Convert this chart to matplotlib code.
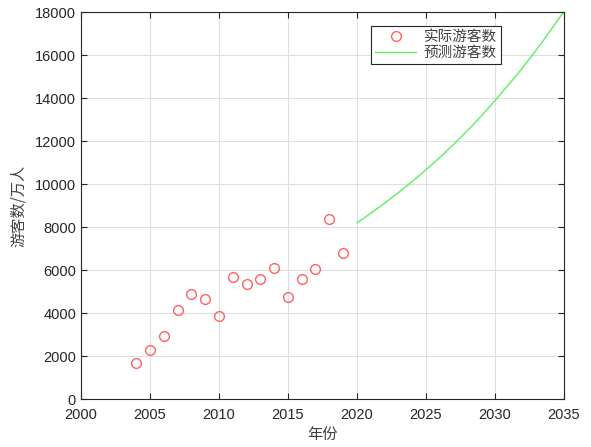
import matplotlib
matplotlib.use("Agg")
import matplotlib.pyplot as plt

plt.rcParams['font.family'] = ['Liberation Sans', 'Noto Sans CJK SC', 'DejaVu Sans']

# Observed visitor numbers (10k persons)
years_actual = [2004, 2005, 2006, 2007, 2008, 2009, 2010, 2011,
                2012, 2013, 2014, 2015, 2016, 2017, 2018, 2019]
visitors_actual = [1660, 2270, 2960, 4140, 4900, 4640, 3880, 5670,
                   5360, 5610, 6090, 4740, 5580, 6060, 8360, 6790]

# Forecast visitor numbers
years_pred = [2020, 2021, 2022, 2023, 2024, 2025, 2026, 2027,
              2028, 2029, 2030, 2031, 2032, 2033, 2034, 2035]
visitors_pred = [8200, 8640, 9110, 9600, 10120, 10660, 11230, 11840,
                 12480, 13150, 13880, 14620, 15400, 16230, 17110, 18020]

xticks = [2000, 2005, 2010, 2015, 2020, 2025, 2030, 2035]
yticks = list(range(0, 18001, 2000))

fig = plt.figure(figsize=(5.91, 4.47), dpi=100)
ax = fig.add_axes([0.137, 0.107, 0.817, 0.866])

ax.plot(years_actual, visitors_actual, linestyle='none', marker='o',
        markersize=7, markerfacecolor='none', markeredgecolor='#ff6262',
        markeredgewidth=1.0, label='实际游客数')
ax.plot(years_pred, visitors_pred, color='#5ef05e', linewidth=1.0,
        label='预测游客数')

ax.set_xlim(2000, 2035)
ax.set_ylim(0, 18000)
ax.set_xticks(xticks)
ax.set_yticks(yticks)
ax.grid(True, color='#e0e0e0', linewidth=0.8)
ax.set_axisbelow(True)

ax.tick_params(direction='in', top=True, right=True, labelsize=10.5,
               colors='#262626', length=4)
ax.tick_params(axis='x', pad=6)
for s in ax.spines.values():
    s.set_color('#262626')
    s.set_linewidth(0.8)

cjk = ['Noto Sans CJK SC', 'DejaVu Sans']
ax.set_xlabel('年份', family=cjk, fontsize=11, color='#404040', labelpad=3)
ax.set_ylabel('游客数/万人', family=cjk, fontsize=11, color='#404040', labelpad=6)

leg = ax.legend(loc='upper right', bbox_to_anchor=(0.87, 0.964),
                borderaxespad=0,
                prop={'family': cjk, 'size': 10.5}, fancybox=False,
                edgecolor='#262626', framealpha=1, borderpad=0.3,
                handlelength=2.8, handletextpad=0.5, labelspacing=0.1)
leg.get_frame().set_linewidth(0.8)
for t in leg.get_texts():
    t.set_color('#404040')

fig.savefig('out.png', dpi=100)
